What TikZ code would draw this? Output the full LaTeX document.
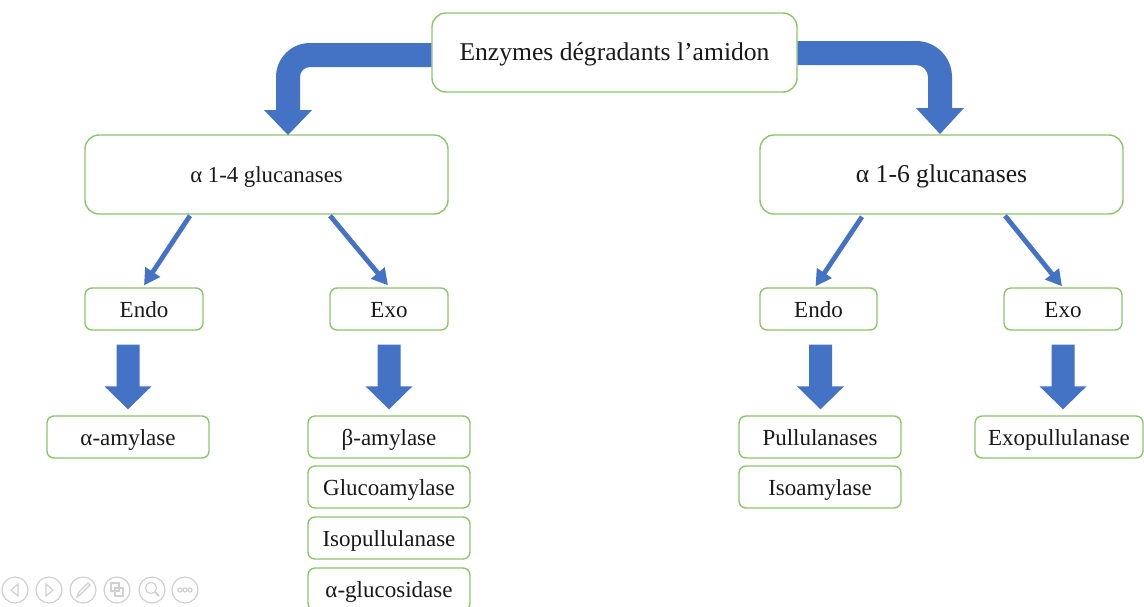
\documentclass[tikz,border=0pt]{standalone}
\usepackage{fontspec}
\setmainfont{Liberation Serif}
\usetikzlibrary{arrows.meta,calc}
\definecolor{bblue}{HTML}{4472C4}
\definecolor{bgreen}{HTML}{8CC66A}
\definecolor{uigrey}{HTML}{D0D0D0}
\tikzset{
  box/.style={draw=bgreen, line width=0.7pt, rounded corners=3.5pt, fill=white,
    inner sep=0pt, align=center, text=black!90, font=\fontsize{11.5}{13}\selectfont,
    text height=0.84em, text depth=0pt, minimum height=21pt},
  bigbox/.style={box, rounded corners=7pt, minimum width=181.5pt, minimum height=39.5pt},
  fat/.style={fill=bblue},
  thinarrow/.style={draw=bblue, line width=2.4pt, -{Triangle[length=8pt,width=8.5pt]}},
  ui/.style={draw=uigrey, line width=0.6pt}
}
\newcommand\fatdown[3]{%
  \coordinate (fs) at (#2.south -| #1,0);
  \coordinate (fe) at (#3.north -| #1,0);
  \fill[fat] ($(fs)+(-11.5,14)$) -- ($(fe)+(-11.5,-29)$) -- ($(fe)+(-23.5,-29)$)
    -- ($(fe)+(0,-6)$) -- ($(fe)+(23.5,-29)$) -- ($(fe)+(11.5,-29)$)
    -- ($(fs)+(11.5,14)$) -- cycle;}
\begin{document}
\begin{tikzpicture}[x=0.5pt,y=-0.5pt]
\useasboundingbox (0,0) rectangle (1144,606);
\clip (0,0) rectangle (1144,606);
\fill[white] (0,0) rectangle (1144,606);

% boxes
\node[bigbox, minimum width=182.5pt, font=\fontsize{12.8}{15}\selectfont] (top) at (614.5,52.5) {Enzymes dégradants l’amidon};
\node[bigbox, font=\fontsize{11.4}{14}\selectfont] (g14) at (266.5,174.5) {α 1-4 glucanases};
\node[bigbox, font=\fontsize{12.8}{15}\selectfont] (g16) at (941.5,174.5) {α 1-6 glucanases};

\node[box, minimum width=59pt] (endoL) at (144,309) {Endo};
\node[box, minimum width=59pt] (exoL) at (389,309) {Exo};
\node[box, minimum width=58.5pt] (endoR) at (818.5,309) {Endo};
\node[box, minimum width=59pt] (exoR) at (1063,309) {Exo};

\node[box, minimum width=81pt] (amylA) at (128,437) {α-amylase};
\node[box, minimum width=81pt] (beta) at (389,437) {β-amylase};
\node[box, minimum width=81pt] (gluco) at (389,487) {Glucoamylase};
\node[box, minimum width=81pt] (isopul) at (389,538) {Isopullulanase};
\node[box, minimum width=81pt] (aglu) at (389,589) {α-glucosidase};
\node[box, minimum width=81pt] (pull) at (820,437) {Pullulanases};
\node[box, minimum width=81pt] (isoam) at (820,487) {Isoamylase};
\node[box, minimum width=84pt] (exopul) at (1059,437) {Exopullulanase};

% curved block arrows
\fill[fat] (top.west |- 0,43) -- (310,43) .. controls (291.2,43) and (276,58.2) .. (276,77)
  -- (276,110) -- (264,110) -- (288,135) -- (312,110) -- (300,110) -- (300,77)
  .. controls (300,71.5) and (304.5,67) .. (310,67) -- (top.west |- 0,67) -- cycle;
\fill[fat] (top.east |- 0,41) -- (916,41) .. controls (935.9,41) and (952,57.1) .. (952,77)
  -- (952,108) -- (964,108) -- (940,134) -- (916,108) -- (928,108) -- (928,77)
  .. controls (928,70.4) and (922.6,65) .. (916,65) -- (top.east |- 0,65) -- cycle;

% thin arrows
\draw[thinarrow] ($(g14.south)+(-76.5,1)$) -- ($(endoL.north)+(0,-2)$);
\draw[thinarrow] ($(g14.south)+(63.5,1)$) -- ($(exoL.north)+(-1,-2)$);
\draw[thinarrow] ($(g16.south)+(-79.5,2)$) -- ($(endoR.north)+(-3,-1)$);
\draw[thinarrow] ($(g16.south)+(63.5,1)$) -- ($(exoR.north)+(-1,-1)$);

% straight block arrows
\fatdown{128}{endoL}{amylA}
\fatdown{389}{exoL}{beta}
\fatdown{820.5}{endoR}{pull}
\fatdown{1063}{exoR}{exopul}

% slide-show controls (faint)
\foreach \cx in {15,49,83,117,152,185} \draw[ui] (\cx,590) circle[radius=6.5pt];
\draw[ui] (18,584) -- (11,590) -- (18,596) -- cycle;
\draw[ui] (46,584) -- (53,590) -- (46,596) -- cycle;
\draw[ui] (77,597) -- (79,592) -- (88,583) -- (90,585) -- (81,594) -- cycle;
\draw[ui] (111,583) rectangle (119,591);
\draw[ui] (115,588) rectangle (123,596);
\draw[ui] (151,588) circle[radius=2.8pt];
\draw[ui, line width=1pt] (155,592) -- (159,596);
\foreach \dx in {-5,0,5} \draw[ui] (185+\dx,590) circle[radius=1pt];
\end{tikzpicture}
\end{document}
